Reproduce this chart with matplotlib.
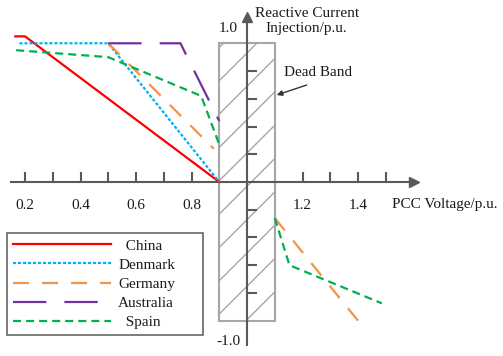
import matplotlib
matplotlib.use("Agg")
import matplotlib.pyplot as plt
from matplotlib.patches import Rectangle

plt.rcParams['font.family'] = ['Liberation Serif', 'DejaVu Serif']
plt.rcParams['lines.scale_dashes'] = False
plt.rcParams['hatch.linewidth'] = 1.0

# ---- data (PCC voltage p.u. vs reactive current injection p.u.) ----
china_v = [0.165, 0.2, 0.9]
china_i = [1.05, 1.05, 0.0]
denmark_v = [0.18, 0.5, 0.9]
denmark_i = [1.0, 1.0, 0.0]
germany_low_v = [0.5, 0.88]
germany_low_i = [1.0, 0.24]
germany_high_v = [1.1, 1.4]
germany_high_i = [-0.26, -1.0]
australia_v = [0.5, 0.76, 0.9]
australia_i = [1.0, 1.0, 0.44]
spain_low_v = [0.168, 0.5, 0.835, 0.9]
spain_low_i = [0.95, 0.90, 0.62, 0.27]
spain_high_v = [1.1, 1.153, 1.486]
spain_high_i = [-0.26, -0.60, -0.875]

deadband = [0.9, 1.1]
x_major = [0.2, 0.4, 0.6, 0.8, 1.2, 1.4]
x_minor = [0.3, 0.5, 0.7, 1.3, 1.5]
y_ticks = [-0.8, -0.6, -0.4, -0.2, 0.2, 0.4, 0.6, 0.8]
legend_labels = ['  China', 'Denmark', 'Germany', 'Australia', '  Spain']

fig = plt.figure(figsize=(5.03, 3.56), dpi=100)
ax = fig.add_axes([0, 0, 1, 1])
ax.set_xlim(0.1099, 1.9225)
ax.set_ylim(-1.2545, 1.312)
ax.patch.set_alpha(0)

axis_col = '#595959'
txt_col = '#1a1a1a'

# dead band
ax.add_patch(Rectangle((deadband[0], -1.0), deadband[1] - deadband[0], 2.0,
                       fill=False, hatch='/', edgecolor='#a6a6a6', lw=1.5, zorder=1))

# spines as axes
for s in ['top', 'right']:
    ax.spines[s].set_visible(False)
ax.spines['bottom'].set_position(('data', 0))
ax.spines['left'].set_position(('data', 1.0))
ax.spines['bottom'].set_bounds(0.15, 1.60)
ax.spines['left'].set_bounds(-1.175, 1.19)
for s in ['bottom', 'left']:
    ax.spines[s].set_color(axis_col)
    ax.spines[s].set_linewidth(1.5)
ax.plot([1.60], [0], marker='>', ms=7, color=axis_col, clip_on=False, zorder=3)
ax.plot([1.0], [1.19], marker='^', ms=7, color=axis_col, clip_on=False, zorder=3)

ax.set_xticks(x_major)
ax.set_xticks(x_minor, minor=True)
ax.set_xticklabels([f'{v:.1f}' for v in x_major])
ax.set_yticks(y_ticks)
ax.set_yticklabels([])
ax.tick_params(axis='x', which='both', direction='in', length=7, width=1.5,
               color=axis_col, pad=12, labelsize=11, labelcolor=txt_col)
ax.tick_params(axis='y', which='both', direction='in', length=7, width=1.5,
               color=axis_col)

# curves
ax.plot(china_v, china_i, color='#ff0000', lw=1.6, label=legend_labels[0], zorder=4)
ax.plot(denmark_v, denmark_i, color='#00b0f0', lw=1.6, ls=(0, (2.2, 1.4)),
        label=legend_labels[1], zorder=4)
ax.plot(germany_low_v, germany_low_i, color='#f0944c', lw=1.6, ls=(0, (11.5, 9.4)),
        label=legend_labels[2], zorder=4)
ax.plot(germany_high_v, germany_high_i, color='#f0944c', lw=1.6, ls=(0, (11.5, 9.4)),
        zorder=4)
ax.plot(australia_v, australia_i, color='#7030a0', lw=1.6, ls=(0, (24, 13)),
        label=legend_labels[3], zorder=5)
ax.plot(spain_low_v, spain_low_i, color='#00b050', lw=1.6, ls=(0, (5.8, 3.6)),
        label=legend_labels[4], zorder=4)
ax.plot(spain_high_v, spain_high_i, color='#00b050', lw=1.6, ls=(0, (5.8, 3.6)),
        zorder=4)

# texts
ax.text(0.9315, 1.103, '1.0', ha='center', va='center', fontsize=11, color=txt_col)
ax.text(0.9315, -1.151, '-1.0', ha='center', va='center', fontsize=11, color=txt_col)
ax.text(1.215, 1.161, 'Reactive Current\nInjection/p.u.', ha='center', va='center',
        fontsize=11, color=txt_col, linespacing=1.2)
ax.text(1.5214, -0.165, 'PCC Voltage/p.u.', ha='left', va='center',
        fontsize=11, color=txt_col)
ax.text(1.133, 0.786, 'Dead Band', ha='left', va='center', fontsize=11, color=txt_col)
ax.annotate('', xy=(1.107, 0.627), xytext=(1.215, 0.699),
            arrowprops=dict(arrowstyle='-|>', color='#333333', lw=1.0,
                            mutation_scale=8, shrinkA=0, shrinkB=0))

leg = ax.legend(loc='upper left', bbox_to_anchor=(6.7 / 503, 0.0, 196.3 / 503, 0.3463),
                bbox_transform=fig.transFigure, borderaxespad=0, mode='expand',
                fontsize=11, handlelength=6.4, handletextpad=0.5,
                labelspacing=0.36, frameon=True, fancybox=False,
                borderpad=0.4)
leg.get_frame().set_edgecolor('#404040')
leg.get_frame().set_linewidth(1.2)
for t in leg.get_texts():
    t.set_color(txt_col)

fig.savefig('out.png', dpi=100)
